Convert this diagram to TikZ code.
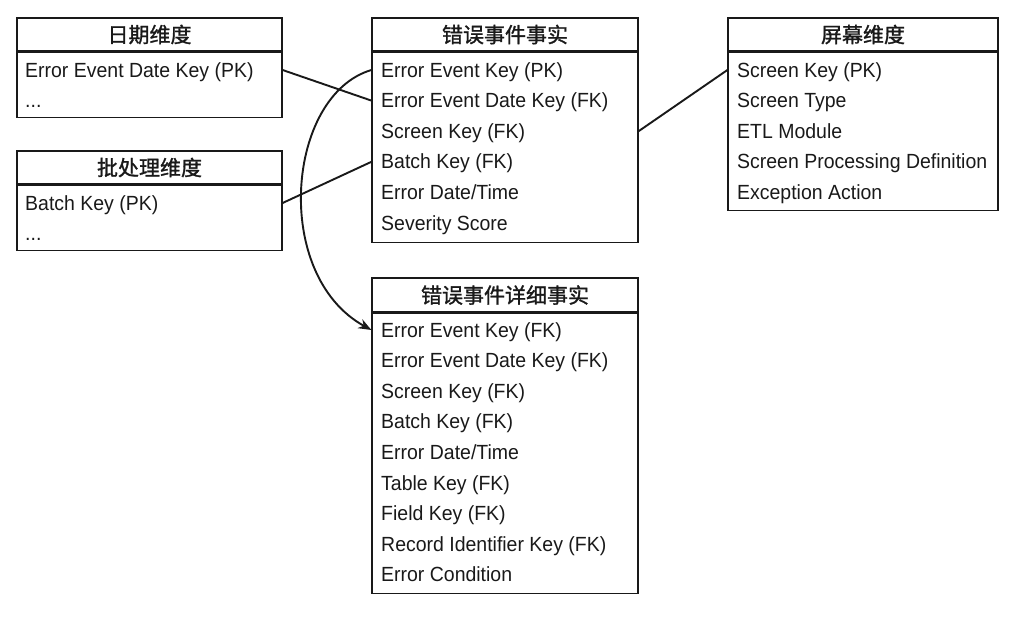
\documentclass[tikz,border=0pt]{standalone}
\usepackage{fontspec}
\setmainfont{Liberation Sans}[FakeStretch=0.95]
\newfontfamily\cjk{Noto Sans CJK SC}[FakeBold=1.3]
\usetikzlibrary{positioning,arrows.meta}

\begin{document}
\begin{tikzpicture}[
    x=1pt, y=-1pt,
    hdr/.style={draw=black!90, line width=1.2pt, inner sep=0pt,
                minimum height=33pt, text=black!90,
                font=\cjk\fontsize{21}{24}\selectfont},
    tbl/.style={draw=black!90, line width=1.2pt, inner sep=0pt},
    field/.style={anchor=base west, inner sep=0pt, text=black!90,
                  font=\fontsize{20.5}{24}\selectfont},
    link/.style={line width=1.9pt, black!90}
]
\useasboundingbox (0,0) rectangle (1021,619);

% Dimension tables
\node[hdr, minimum width=265pt] (datehdr) at (149.5,34.5) {日期维度};
\node[tbl, minimum width=265pt, minimum height=65pt, below=0pt of datehdr] (datebox) {};
\node[field] (date-1) at (25,77) {Error Event Date Key (PK)};
\node[field] (date-2) at (25,107) {...};

\node[hdr, minimum width=265pt] (batchhdr) at (149.5,167.5) {批处理维度};
\node[tbl, minimum width=265pt, minimum height=65pt, below=0pt of batchhdr] (batchbox) {};
\node[field] (batch-1) at (25,210) {Batch Key (PK)};
\node[field] (batch-2) at (25,240) {...};

\node[hdr, minimum width=270pt] (screenhdr) at (863,34.5) {屏幕维度};
\node[tbl, minimum width=270pt, minimum height=158pt, below=0pt of screenhdr] (screenbox) {};
\foreach \t [count=\i] in {Screen Key (PK), Screen Type, ETL Module,
    Screen Processing Definition, Exception Action}
    \node[field] (screen-\i) at (737,{77+30.6*(\i-1)}) {\t};

% Fact tables
\node[hdr, minimum width=266pt] (facthdr) at (505,34.5) {错误事件事实};
\node[tbl, minimum width=266pt, minimum height=190pt, below=0pt of facthdr] (factbox) {};
\foreach \t [count=\i] in {Error Event Key (PK), Error Event Date Key (FK),
    Screen Key (FK), Batch Key (FK), Error Date/Time, Severity Score}
    \node[field] (fact-\i) at (381,{77+30.6*(\i-1)}) {\t};

\node[hdr, minimum width=266pt, minimum height=34pt] (detailhdr) at (505,295) {错误事件详细事实};
\node[tbl, minimum width=266pt, minimum height=280pt, below=0pt of detailhdr] (detailbox) {};
\foreach \t [count=\i] in {Error Event Key (FK), Error Event Date Key (FK),
    Screen Key (FK), Batch Key (FK), Error Date/Time, Table Key (FK),
    Field Key (FK), Record Identifier Key (FK), Error Condition}
    \node[field] (detail-\i) at (381,{337+30.6*(\i-1)}) {\t};

% Key links (rows sit on their baseline, so step up 7pt)
\draw[link] ([yshift=7pt]datebox.east |- date-1.base) -- ([yshift=7pt]factbox.west |- fact-2.base);
\draw[link] ([yshift=7pt]batchbox.east |- batch-1.base) -- ([yshift=7pt]factbox.west |- fact-4.base);
\draw[link] ([yshift=7pt]factbox.east |- fact-3.base) -- ([yshift=7pt]screenbox.west |- screen-1.base);
\draw[link, -{Stealth[length=13pt, width=10pt]}] ([yshift=7pt]factbox.west |- fact-1.base)
    .. controls +(-85,25) and +(-100,-55) .. ([yshift=7pt]detailbox.west |- detail-1.base);

\end{tikzpicture}
\end{document}
